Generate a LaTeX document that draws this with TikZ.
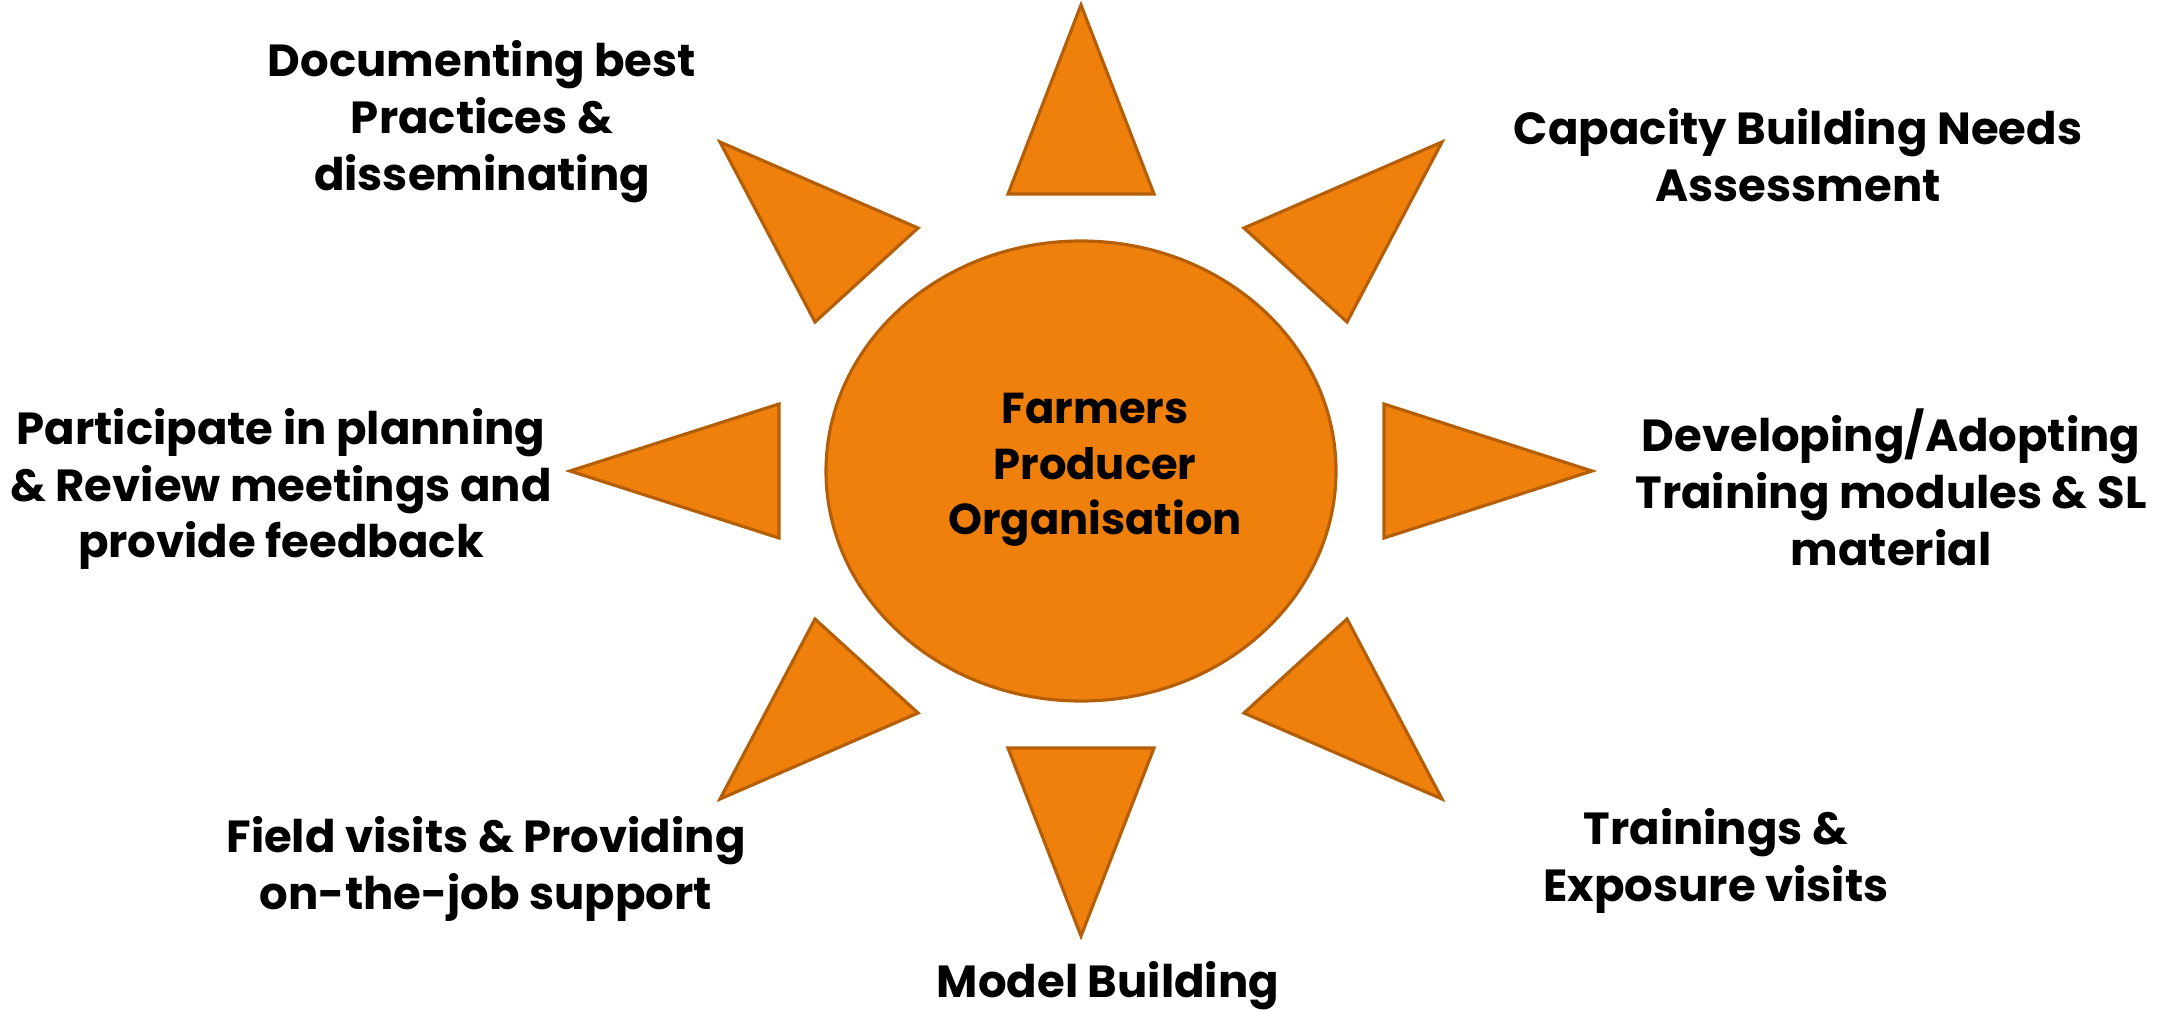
\documentclass[tikz,border=0pt]{standalone}
\usepackage{fontspec}
\setmainfont{Poppins}
\usetikzlibrary{shapes.geometric}
\definecolor{rayfill}{RGB}{239,128,11}
\definecolor{rayline}{RGB}{180,95,8}
\tikzset{
	sunray/.style={fill=rayfill,draw=rayline,line width=0.9pt,line join=miter},
	hub/.style={ellipse,fill=rayfill,draw=rayline,line width=0.9pt,minimum width=5.1cm,minimum height=4.6cm,inner sep=0pt},
	labeltext/.style={align=center,font=\bfseries\fontsize{12.8}{16.2}\selectfont,text=black,inner sep=0pt}
}
\begin{document}
\begin{tikzpicture}
	\useasboundingbox (0,0) rectangle (21.59,10.12);
		% rays
		\filldraw[sunray] (10.81,10.07) -- (10.08,8.18) -- (11.54,8.18) -- cycle;
		\filldraw[sunray] (10.81,0.76) -- (10.08,2.64) -- (11.54,2.64) -- cycle;
		\filldraw[sunray] (5.70,5.41) -- (7.79,6.08) -- (7.79,4.74) -- cycle;
		\filldraw[sunray] (15.92,5.41) -- (13.84,6.08) -- (13.84,4.74) -- cycle;
		\filldraw[sunray] (7.20,8.70) -- (9.18,7.84) -- (8.15,6.90) -- cycle;
		\filldraw[sunray] (14.42,8.70) -- (12.44,7.84) -- (13.47,6.90) -- cycle;
		\filldraw[sunray] (7.20,2.13) -- (9.18,2.99) -- (8.15,3.93) -- cycle;
		\filldraw[sunray] (14.42,2.13) -- (12.44,2.99) -- (13.47,3.93) -- cycle;
		% centre
		\node[hub] (fpo) at (10.81,5.41) {};
		\node[labeltext,font=\bfseries\fontsize{12.3}{15.8}\selectfont] (fpotext) at (10.95,5.42) {Farmers\\Producer\\Organisation};
		% labels
		\node[labeltext] (documenting) at (4.82,8.90) {Documenting best\\Practices \&\\disseminating};
		\node[labeltext] (needs) at (17.98,8.57) {Capacity Building Needs\\Assessment};
		\node[labeltext] (planning) at (2.81,5.23) {Participate in planning\\\& Review meetings and\\provide feedback};
		\node[labeltext] (modules) at (18.91,5.245) {Developing/Adopting\\Training modules \& SL\\material};
		\node[labeltext] (fieldvisits) at (4.86,1.43) {Field visits \& Providing\\on-the-job support};
		\node[labeltext] (trainings) at (17.16,1.515) {Trainings \&\\Exposure visits};
		\node[labeltext,anchor=base] (model) at (11.08,0.15) {Model Building};
\end{tikzpicture}
\end{document}
